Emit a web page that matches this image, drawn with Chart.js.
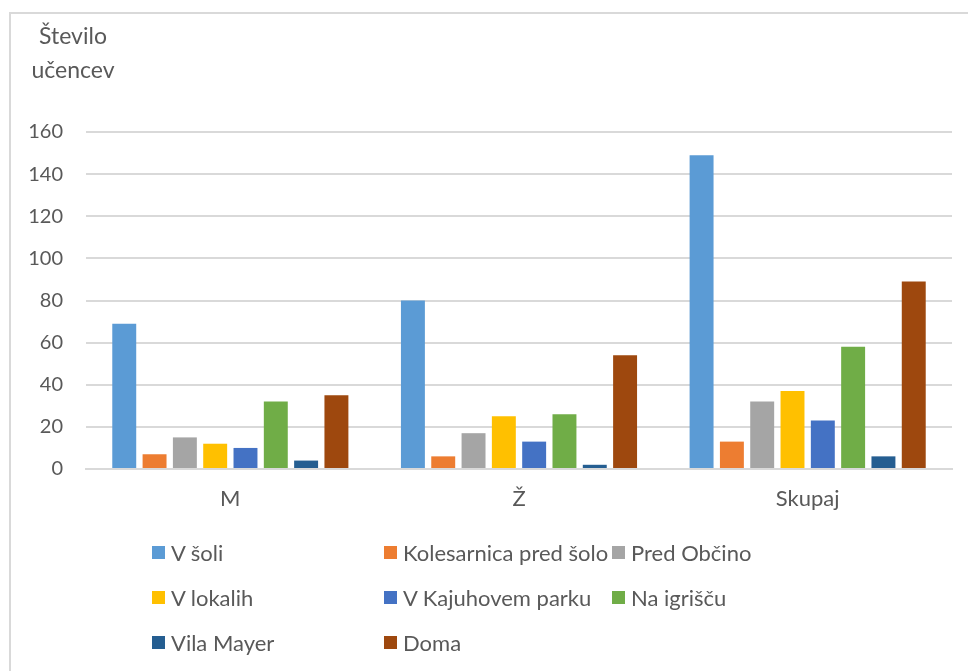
<!DOCTYPE html>
<html>
<head>
<meta charset="utf-8">
<script src="https://cdn.jsdelivr.net/npm/chart.js@4.4.0/dist/chart.umd.min.js"></script>
<style>
  html, body { margin: 0; padding: 0; background: #fff; }
  #wrap { position: relative; width: 968px; height: 671px; overflow: hidden; }
  #frame { position: absolute; left: 9px; top: 12px; width: 970px; height: 680px;
           border-left: 2px solid #d9d9d9; border-top: 2px solid #d9d9d9; box-sizing: border-box; }
  canvas { position: absolute; left: 0; top: 0; }
  #title { position: absolute; left: 23px; top: 18px; width: 100px; text-align: center;
           font-family: Lato, "Open Sans", sans-serif; font-size: 23px; line-height: 34px; color: #595959; }
  #legend { position: absolute; left: 152px; top: 530px; display: grid;
            grid-template-columns: 232px 228px 240px; grid-auto-rows: 45px;
            font-family: Lato, "Open Sans", sans-serif; font-size: 22px; color: #595959; }
  #legend .item { display: flex; align-items: center; white-space: nowrap; }
  #legend .box { width: 13px; height: 13px; margin-right: 6px; flex: none; }
</style>
</head>
<body>
<div id="wrap">
  <div id="frame"></div>
  <canvas id="c" width="968" height="671"></canvas>
  <div id="title"></div>
  <div id="legend"></div>
</div>
<script>
const categories = ['M', 'Ž', 'Skupaj'];
const seriesNames = ['V šoli', 'Kolesarnica pred šolo', 'Pred Občino', 'V lokalih',
                     'V Kajuhovem parku', 'Na igrišču', 'Vila Mayer', 'Doma'];
const vSoli = [69, 80, 149];
const kolesarnica = [7, 6, 13];
const predObcino = [15, 17, 32];
const vLokalih = [12, 25, 37];
const kajuhovPark = [10, 13, 23];
const naIgriscu = [32, 26, 58];
const vilaMayer = [4, 2, 6];
const doma = [35, 54, 89];
const yTicks = [0, 20, 40, 60, 80, 100, 120, 140, 160];
const axisTitle = ['Število', 'učencev'];

const colors = ['#5B9BD5', '#ED7D31', '#A5A5A5', '#FFC000', '#4472C4', '#70AD47', '#255E91', '#9E480E'];
const values = [vSoli, kolesarnica, predObcino, vLokalih, kajuhovPark, naIgriscu, vilaMayer, doma];

const datasets = seriesNames.map((n, i) => ({
  label: n,
  data: values[i],
  backgroundColor: colors[i],
  borderWidth: 0,
  categoryPercentage: 0.84,
  barPercentage: 0.79
}));

document.getElementById('title').innerHTML = axisTitle.map(s => s.replace(/&/g, '&amp;')).join('<br>');

const htmlLegend = {
  id: 'htmlLegend',
  afterUpdate(chart) {
    const el = document.getElementById('legend');
    el.innerHTML = '';
    chart.data.datasets.forEach(ds => {
      const item = document.createElement('div');
      item.className = 'item';
      const box = document.createElement('span');
      box.className = 'box';
      box.style.background = ds.backgroundColor;
      const t = document.createElement('span');
      t.textContent = ds.label;
      item.appendChild(box);
      item.appendChild(t);
      el.appendChild(item);
    });
  }
};

const FONT = 'Lato, "Open Sans", sans-serif';

new Chart(document.getElementById('c'), {
  type: 'bar',
  data: { labels: categories, datasets },
  plugins: [htmlLegend],
  options: {
    responsive: false,
    animation: false,
    events: [],
    layout: { padding: { left: 26, right: 16, top: 132, bottom: 152 } },
    plugins: {
      legend: { display: false },
      tooltip: { enabled: false },
      title: { display: false }
    },
    scales: {
      x: {
        grid: { display: false, drawTicks: false },
        border: { display: true, color: '#d9d9d9', width: 2 },
        ticks: { color: '#595959', font: { family: FONT, size: 22 }, padding: 17 },
        afterFit(scale) { scale.height = 50; }
      },
      y: {
        min: 0, max: 160,
        afterBuildTicks(scale) { scale.ticks = yTicks.map(v => ({ value: v })); },
        grid: { color: '#d9d9d9', lineWidth: 2, drawTicks: false },
        border: { display: false },
        ticks: { color: '#595959', font: { family: FONT, size: 20 }, padding: 23 },
        afterFit(scale) { scale.width = 60; }
      }
    }
  }
});
</script>
</body>
</html>
